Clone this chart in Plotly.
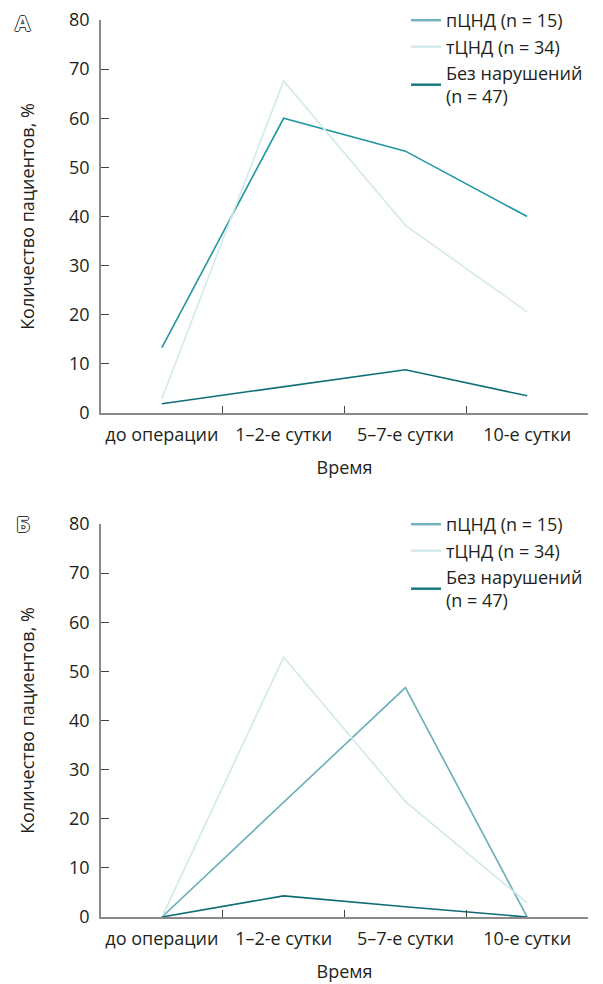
import plotly.graph_objects as go

categories = ["до операции", "1–2-е сутки", "5–7-е сутки", "10-е сутки"]
series_names = ["пЦНД (n = 15)", "тЦНД (n = 34)", "Без нарушений<br>(n = 47)"]
y_ticks = [0, 10, 20, 30, 40, 50, 60, 70, 80]

a_pcnd = [13.3, 60.0, 53.3, 40.0]
a_tcnd = [2.9, 67.6, 38.2, 20.6]
a_none = [1.9, 5.3, 8.8, 3.5]

b_pcnd = [0.0, 23.3, 46.7, 0.0]
b_tcnd = [0.0, 52.9, 23.5, 2.9]
b_none = [0.0, 4.3, 2.1, 0.0]

legend_colors = ["#72b4bd", "#d5e9ec", "#1b7b85"]
a_colors = ["#2197a1", "#d5e9ec", "#0f6d76"]
b_colors = ["#6aaeb7", "#d2e8eb", "#0f6b74"]

FONT = "Open Sans"
TXT = "#231f20"
FS = 18

fig = go.Figure()

panels = [
    ("x", "y", "legend", [a_pcnd, a_tcnd, a_none], a_colors),
    ("x2", "y2", "legend2", [b_pcnd, b_tcnd, b_none], b_colors),
]
for xa, ya, lg, data, cols in panels:
    for name, vals, col in zip(series_names, data, cols):
        fig.add_trace(go.Scatter(
            x=categories, y=vals, mode="lines", name=name,
            line=dict(color=col, width=1.6), xaxis=xa, yaxis=ya,
            showlegend=False, hoverinfo="skip"))
    for name, col in zip(series_names, legend_colors):
        fig.add_trace(go.Scatter(
            x=[None], y=[None], mode="lines", name=name,
            line=dict(color=col, width=2.5), xaxis=xa, yaxis=ya,
            legend=lg, showlegend=True))

W, H = 603, 984
x0, x1 = 101 / W, 588 / W

axis_common = dict(
    showgrid=False, zeroline=False, showline=True, automargin=False,
    linecolor="#8a8a8a", linewidth=1.5,
    ticks="inside", tickcolor="#444", tickwidth=1.2,
    tickfont=dict(family=FONT, size=FS, color=TXT),
)

for i, (top, bot) in enumerate([(20, 413), (524, 917)]):
    sfx = "" if i == 0 else str(i + 1)
    fig.layout["xaxis" + sfx] = dict(
        axis_common, domain=[x0, x1], anchor="y" + sfx,
        type="category", categoryorder="array", categoryarray=categories,
        range=[-0.5, 3.5], tickson="boundaries", ticklen=7, tickangle=0,
        ticklabelstandoff=5,
        title=dict(text="Время", font=dict(family=FONT, size=FS, color=TXT),
                   standoff=16),
    )
    fig.layout["yaxis" + sfx] = dict(
        axis_common, domain=[1 - bot / H, 1 - top / H], anchor="x" + sfx,
        range=[0, 80], tickvals=y_ticks, ticklen=8, ticklabelstandoff=6,
        title=dict(text="Количество пациентов, %",
                   font=dict(family=FONT, size=FS, color=TXT), standoff=30),
    )

leg_common = dict(
    xanchor="left", yanchor="top", bgcolor="rgba(0,0,0,0)",
    font=dict(family=FONT, size=FS, color=TXT),
    tracegroupgap=0, itemwidth=30,
)
fig.update_layout(
    legend=dict(leg_common, x=406 / W, y=1 - 2 / H),
    legend2=dict(leg_common, x=406 / W, y=1 - 506 / H),
)

outline = "1px 0 0 #333, -1px 0 0 #333, 0 1px 0 #333, 0 -1px 0 #333"
for txt, ypx in [("А", 22), ("Б", 523)]:
    fig.add_annotation(
        x=23 / W, y=1 - ypx / H, xref="paper", yref="paper",
        text=txt, showarrow=False, xanchor="center", yanchor="middle",
        font=dict(family=FONT, size=22, color="white", shadow=outline,
                  weight="bold"))

fig.update_layout(
    width=W, height=H, margin=dict(l=0, r=0, t=0, b=0),
    paper_bgcolor="white", plot_bgcolor="white",
    font=dict(family=FONT, color=TXT),
)

fig.write_html("out.html")
